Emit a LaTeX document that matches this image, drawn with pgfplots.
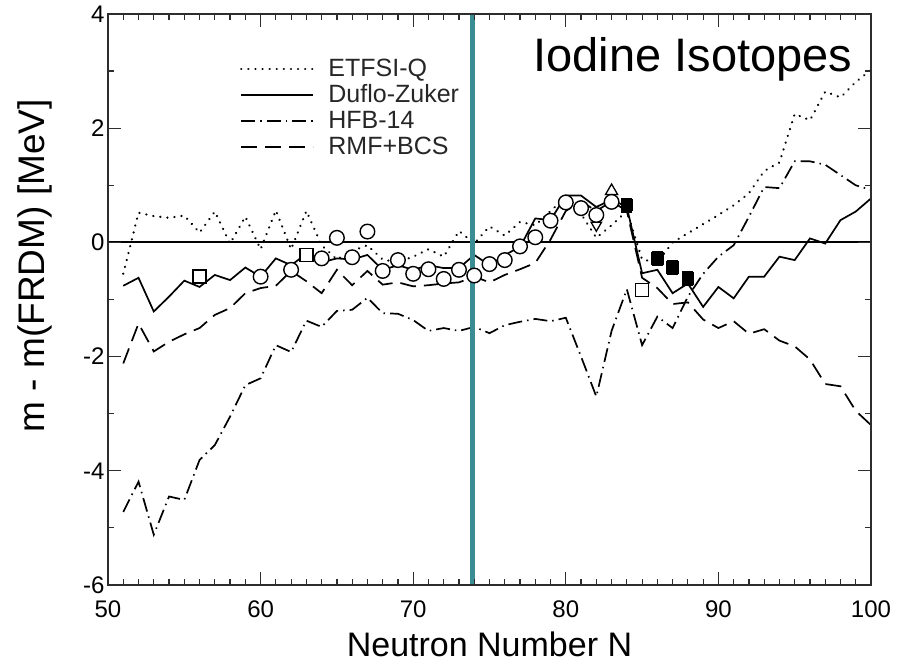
\documentclass[border=0pt]{standalone}
\usepackage{fontspec}
\setmainfont{Liberation Sans}
\usepackage{pgfplots}
\pgfplotsset{compat=1.18}
\definecolor{tealline}{RGB}{58,142,147}
\definecolor{axgray}{RGB}{45,45,45}
\begin{document}
\begin{tikzpicture}
\path[use as bounding box] (0,0) rectangle (902bp,665bp);
\begin{axis}[
  at={(108bp,80bp)}, anchor=south west,
  scale only axis, width=763bp, height=571bp,
  xmin=50, xmax=100, ymin=-6, ymax=4,
  xtick={50,60,...,100}, minor x tick num=9,
  ytick={-6,-4,...,4}, minor y tick num=1,
  tick align=inside,
  major tick length=13bp, minor tick length=6bp,
  every tick/.style={axgray, line width=1.2bp},
  axis line style={axgray, line width=1.8bp},
  axis on top,
  /pgf/number format/assume math mode=true,
  ticklabel style={font=\fontsize{24bp}{28bp}\selectfont},
  xticklabel style={yshift=-12bp},
  xlabel={Neutron Number N},
  ylabel={m - m(FRDM) [MeV]},
  every axis x label/.style={at={(axis description cs:0.5,0)}, anchor=base, yshift=-72bp, font=\fontsize{34bp}{40bp}\selectfont},
  every axis y label/.style={at={(axis description cs:-0.0957,0.559)}, rotate=90, anchor=center, font=\fontsize{37bp}{44bp}\selectfont},
  legend style={at={(0.173,0.922)}, anchor=north west, draw=none, fill=none, inner sep=0pt, outer sep=0pt,
    font=\fontsize{25bp}{30bp}\selectfont, text=black!85, row sep=5bp, column sep=14bp,
    nodes={inner sep=0pt, text height=18bp, text depth=3bp}},
  legend cell align=left,
  legend image code/.code={\draw[#1] (0bp,0bp) -- (72bp,0bp);},
]
% zero line
\addplot[black, line width=1.8bp, forget plot] coordinates {(50,0) (100,0)};

% ETFSI-Q
\addplot[black, line width=2.4bp, line cap=round, dash pattern=on 0.1bp off 7bp] coordinates {
(51,-0.55) (52,0.52) (53,0.46) (54,0.43) (55,0.47) (56,0.17) (57,0.54) (58,-0.02) (59,0.45) (60,-0.12)
(61,0.56) (62,-0.12) (63,0.55) (64,-0.05) (65,-0.30) (66,-0.15) (67,-0.05) (68,-0.30) (69,-0.35) (70,-0.25)
(71,-0.12) (72,-0.25) (73,0.20) (74,-0.02) (75,0.28) (76,0.12) (77,0.36) (78,0.30) (79,0.55) (80,0.80)
(81,0.50) (82,0.08) (83,0.30) (84,0.55) (85,-0.30) (86,-0.35) (87,0.00) (88,0.16) (89,0.32) (90,0.48)
(91,0.65) (92,0.86) (93,1.25) (94,1.40) (95,2.25) (96,2.14) (97,2.64) (98,2.54) (99,2.81) (100,3.02)};
\addlegendentry{ETFSI-Q}

% Duflo-Zuker
\addplot[black, line width=1.7bp] coordinates {
(51,-0.76) (52,-0.62) (53,-1.21) (54,-0.95) (55,-0.67) (56,-0.78) (57,-0.57) (58,-0.66) (59,-0.44) (60,-0.60)
(61,-0.28) (62,-0.40) (63,-0.20) (64,-0.35) (65,-0.28) (66,-0.30) (67,-0.22) (68,-0.48) (69,-0.40) (70,-0.48)
(71,-0.40) (72,-0.45) (73,-0.45) (74,-0.22) (75,-0.40) (76,-0.22) (77,-0.08) (78,0.42) (79,0.39) (80,0.82)
(81,0.82) (82,0.62) (83,0.75) (84,0.62) (85,-0.54) (86,-0.48) (87,-0.89) (88,-0.72) (89,-1.13) (90,-0.78)
(91,-0.98) (92,-0.60) (93,-0.60) (94,-0.25) (95,-0.31) (96,0.07) (97,-0.02) (98,0.39) (99,0.54) (100,0.77)};
\addlegendentry{Duflo-Zuker}

% HFB-14
\addplot[black, line width=1.7bp, dash pattern=on 14bp off 5bp on 1.5bp off 5bp] coordinates {
(51,-4.72) (52,-4.19) (53,-5.12) (54,-4.45) (55,-4.51) (56,-3.81) (57,-3.55) (58,-3.05) (59,-2.50) (60,-2.38)
(61,-1.80) (62,-1.92) (63,-1.37) (64,-1.48) (65,-1.20) (66,-1.18) (67,-0.97) (68,-1.24) (69,-1.25) (70,-1.36)
(71,-1.55) (72,-1.50) (73,-1.55) (74,-1.48) (75,-1.59) (76,-1.45) (77,-1.39) (78,-1.34) (79,-1.38) (80,-1.32)
(81,-2.00) (82,-2.70) (83,-1.55) (84,-0.82) (85,-1.80) (86,-1.30) (87,-1.50) (88,-0.95) (89,-0.55) (90,-0.25)
(91,-0.05) (92,0.45) (93,0.97) (94,0.95) (95,1.42) (96,1.42) (97,1.36) (98,1.18) (99,1.00) (100,0.92)};
\addlegendentry{HFB-14}

% RMF+BCS
\addplot[black, line width=1.7bp, dash pattern=on 16bp off 8bp] coordinates {
(51,-2.12) (52,-1.42) (53,-1.91) (54,-1.74) (55,-1.61) (56,-1.50) (57,-1.27) (58,-1.15) (59,-0.89) (60,-0.80)
(61,-0.76) (62,-0.50) (63,-0.68) (64,-0.89) (65,-0.48) (66,-0.75) (67,-0.50) (68,-0.74) (69,-0.70) (70,-0.77)
(71,-0.75) (72,-0.72) (73,-0.70) (74,-0.60) (75,-0.70) (76,-0.57) (77,-0.47) (78,-0.36) (79,0.05) (80,0.55)
(81,0.72) (82,0.55) (83,0.72) (84,0.55) (85,-0.62) (86,-0.80) (87,-1.08) (88,-1.05) (89,-1.35) (90,-1.50)
(91,-1.38) (92,-1.60) (93,-1.52) (94,-1.72) (95,-1.82) (96,-2.05) (97,-2.48) (98,-2.52) (99,-2.95) (100,-3.20)};
\addlegendentry{RMF+BCS}

% teal marker line
\addplot[tealline, line width=5bp, forget plot] coordinates {(73.9,-6) (73.9,4)};

% open triangles
\addplot[black, only marks, line width=1.3bp, mark=triangle*, mark size=7bp, mark options={fill=white}, forget plot] coordinates {(83,0.90)};
\addplot[black, only marks, line width=1.3bp, mark=triangle*, mark size=6bp, mark options={fill=white, rotate=180}, forget plot] coordinates {(82,0.30)};

% open circles
\addplot[black, only marks, line width=1.4bp, mark=*, mark size=7.3bp, mark options={fill=white}, forget plot] coordinates {
(60,-0.60) (62,-0.48) (64,-0.28) (65,0.08) (66,-0.26) (67,0.19) (68,-0.50) (69,-0.31) (70,-0.55) (71,-0.47)
(72,-0.64) (73,-0.48) (74,-0.58) (75,-0.38) (76,-0.31) (77,-0.07) (78,0.09) (79,0.38) (80,0.70) (81,0.60)
(82,0.48) (83,0.71)};

% open squares
\addplot[black, only marks, line width=1.4bp, mark=square*, mark size=6.5bp, mark options={fill=white}, forget plot] coordinates {
(56,-0.60) (63,-0.22) (85,-0.83)};

% filled squares with error bars
\addplot[black, only marks, line width=1.4bp, mark=square*, mark size=5.5bp, forget plot,
  error bars/.cd, y dir=both, y explicit, error bar style={line width=1.6bp}, error mark options={rotate=90, mark size=5.5bp, line width=1.6bp}] coordinates {
(84,0.65) +- (0,0.12) (86,-0.28) +- (0,0.12) (87,-0.44) +- (0,0.12) (88,-0.63) +- (0,0.12)};
\end{axis}
\node[anchor=base west, font=\fontsize{47bp}{56bp}\selectfont] at (530bp,593bp) {Iodine Isotopes};
\end{tikzpicture}
\end{document}
